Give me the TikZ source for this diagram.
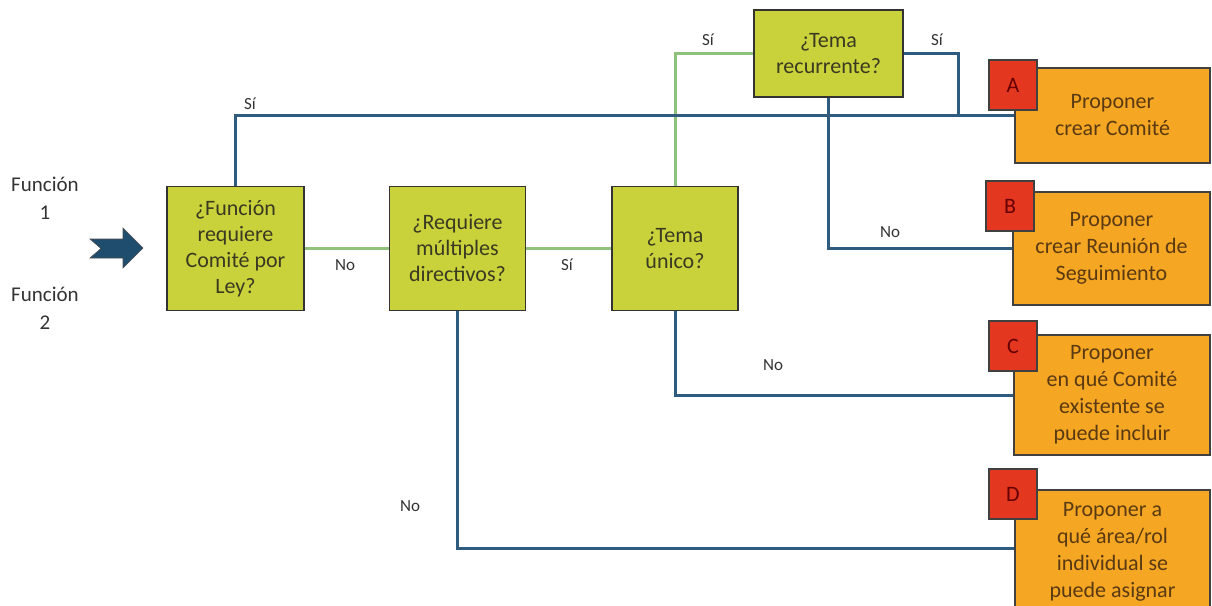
\documentclass[tikz,border=0pt]{standalone}
\usepackage{fontspec}
\setmainfont{Carlito}
\usetikzlibrary{positioning}
\definecolor{qfill}{HTML}{C9D23A}
\definecolor{ofill}{HTML}{F5A623}
\definecolor{tagred}{HTML}{E4371F}
\definecolor{linkblue}{HTML}{2F5C7E}
\definecolor{linkgreen}{HTML}{8FC07C}
\definecolor{qtext}{HTML}{3A3A22}
\definecolor{otext}{HTML}{5A3A12}
\definecolor{lbltext}{HTML}{333333}
\definecolor{arrowblue}{HTML}{1F4D6E}
\tikzset{
  question/.style={draw=black!80, line width=1.4pt, fill=qfill, text=qtext,
    align=center, inner sep=2pt, font=\fontsize{22}{26}\selectfont},
  outcome/.style={draw=black!75, line width=1.4pt, fill=ofill, text=otext,
    align=center, inner sep=2pt, font=\fontsize{22}{27}\selectfont},
  tag/.style={draw=black!75, line width=1.2pt, fill=tagred, text=red!40!black,
    minimum width=48pt, minimum height=50pt, inner sep=0pt,
    font=\fontsize{22}{26}\selectfont},
  blue link/.style={draw=linkblue, line width=3pt},
  green link/.style={draw=linkgreen, line width=3pt},
  lbl/.style={text=lbltext, font=\fontsize{17}{20}\selectfont},
}
\begin{document}
\begin{tikzpicture}[x=1pt, y=-1pt]
  \useasboundingbox (0,0) rectangle (1212,605);
  % questions
  \node[question, minimum width=137pt, minimum height=124pt] (q1) at (235.5,248.5)
    {¿Función\\requiere\\Comité por\\Ley?};
  \node[question, minimum width=136pt, minimum height=124pt] (q2) at (457.5,248.5)
    {¿Requiere\\múltiples\\directivos?};
  \node[question, minimum width=126pt, minimum height=124pt] (q3) at (675,248.5)
    {¿Tema\\único?};
  \node[question, minimum width=149pt, minimum height=87pt] (q4) at (828.5,53.5)
    {¿Tema\\recurrente?};
  % outcomes
  \node[outcome, minimum width=195pt, minimum height=95pt] (oA) at (1112.5,115.5)
    {Proponer\\crear Comité};
  \node[outcome, minimum width=197pt, minimum height=113pt] (oB) at (1111.5,248.5)
    {Proponer\\crear Reunión de\\Seguimiento};
  \node[outcome, minimum width=196pt, minimum height=120pt] (oC) at (1112,395)
    {Proponer\\en qué Comité\\existente se\\puede incluir};
  \node[outcome, minimum width=195pt, minimum height=124pt] (oD) at (1112.5,552)
    {Proponer a\\qué área/rol\\individual se\\puede asignar};
  \node[tag] (tA) at (1013,85) {A};
  \node[tag] (tB) at (1010,206) {B};
  \node[tag] (tC) at (1013,346) {C};
  \node[tag] (tD) at (1013,494) {D};
  % connectors
  \coordinate (join) at (958,115.5);
  \draw[green link] (q1.east) -- (q2.west);
  \draw[green link] (q2.east) -- (q3.west);
  \draw[green link] (q3.north) |- (q4.west);
  \draw[blue link] (q1.north) |- (oA.west);
  \draw[blue link] (q4.east) -| (join);
  \draw[blue link] (q4.south) |- (oB.west);
  \draw[blue link] (q3.south) |- (oC.west);
  \draw[blue link] (q2.south) |- ([yshift=4pt]oD.west);
  % labels
  \node[lbl] (s1) at (250,104) {Sí};
  \node[lbl] (n1) at (345,265) {No};
  \node[lbl] (s2) at (567,265) {Sí};
  \node[lbl] (s3) at (708,40) {Sí};
  \node[lbl] (s4) at (937,40) {Sí};
  \node[lbl] (n2) at (890,232) {No};
  \node[lbl] (n3) at (773,365) {No};
  \node[lbl] (n4) at (410,506) {No};
  % inputs
  \node[text=lbltext, align=center, font=\fontsize{21}{28}\selectfont] (f1) at (45,198) {Función\\1};
  \node[text=lbltext, align=center, font=\fontsize{21}{28}\selectfont] (f2) at (45,308) {Función\\2};
  \fill[arrowblue, draw=black!70, line width=0.6pt]
    (90,239) -- (123,239) -- (123,228) -- (143,248) -- (123,268)
    -- (123,258) -- (90,258) -- (101,248.5) -- cycle;
\end{tikzpicture}
\end{document}
